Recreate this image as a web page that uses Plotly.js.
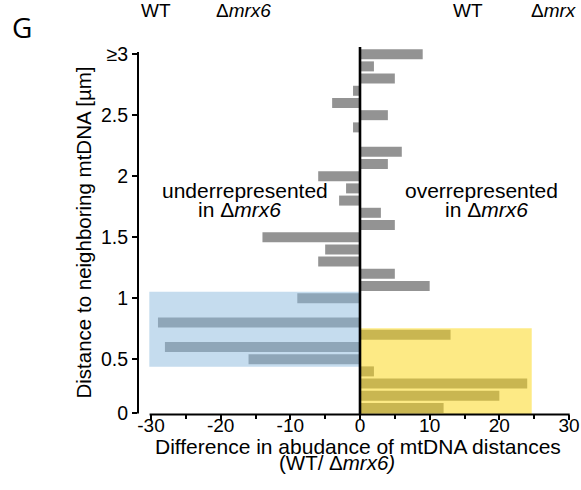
<!DOCTYPE html>
<html>
<head>
<meta charset="utf-8">
<script src="https://cdn.plot.ly/plotly-3.0.1.min.js"></script>
<style>html,body{margin:0;padding:0;background:#fff;}#chart{width:581px;height:490px;}</style>
</head>
<body>
<div id="chart"></div>
<script>
// Distance bins (µm) – bar positions along the y axis (top bin is "≥3")
const distanceBins = [0.1, 0.2, 0.3, 0.4, 0.5, 0.6, 0.7, 0.8, 0.9, 1.0,
                      1.1, 1.2, 1.3, 1.4, 1.5, 1.6, 1.7, 1.8, 1.9, 2.0,
                      2.1, 2.2, 2.3, 2.4, 2.5, 2.6, 2.7, 2.8, 2.9, 3.0];
// Difference in abundance of mtDNA distances (WT / Δmrx6)
const abundanceDiff = [12, 20, 24, 2, -16, -28, 13, -29, 0, -9,
                       10, 5, -6, -5, -14, 5, 3, -3, -2, -6,
                       4, 6, 0, -1, 4, -4, -1, 5, 2, 9];
const xTickValues = [-30, -20, -10, 0, 10, 20, 30];
const xTickLabels = ['-30', '-20', '-10', '0', '10', '20', '30'];
const xMinorTicks = [-25, -15, -5, 5, 15, 25];
const yTickValues = [0.059, 0.5, 1, 1.5, 2, 2.5, 3];
const yTickLabels = ['0', '0.5', '1', '1.5', '2', '2.5', '≥3'];

const FONT = 'Liberation Sans, Arial, Helvetica, sans-serif';
const W = 581, H = 490;
const M = {l: 138, r: 10, t: 46, b: 76};
const PW = W - M.l - M.r, PH = H - M.t - M.b;
const px = x => (x - M.l) / PW;          // pixel -> paper (x)
const py = y => (H - M.b - y) / PH;      // pixel -> paper (y)

const trace = {
  type: 'bar',
  orientation: 'h',
  x: abundanceDiff,
  y: distanceBins,
  width: 0.082,
  marker: {color: '#939393', line: {width: 0}},
  hoverinfo: 'skip'
};

function ann(text, x, y, size, extra) {
  return Object.assign({
    text: text, xref: 'paper', yref: 'paper', x: px(x), y: py(y),
    xanchor: 'center', yanchor: 'middle', showarrow: false,
    font: {family: FONT, size: size, color: '#000'}
  }, extra || {});
}

const layout = {
  width: W, height: H,
  margin: M,
  paper_bgcolor: '#fff', plot_bgcolor: '#fff',
  showlegend: false,
  bargap: 0.2,
  xaxis: {
    range: [-31.865, 30.286],
    tickvals: xTickValues, ticktext: xTickLabels,
    ticks: 'outside', ticklen: 5, tickwidth: 2, tickcolor: '#000',
    ticklabelstandoff: -11,
    showgrid: false, zeroline: false, showline: false,
    tickfont: {family: FONT, size: 19, color: '#000'},
    minor: {tickvals: xMinorTicks, ticks: 'outside', ticklen: 4, tickwidth: 2, tickcolor: '#000', showgrid: false}
  },
  yaxis: {
    range: [0.0508, 3.067],
    tickvals: yTickValues, ticktext: yTickLabels,
    ticks: 'outside', ticklen: 5, tickwidth: 2, tickcolor: '#000',
    showgrid: false, zeroline: false, showline: false,
    tickfont: {family: FONT, size: 19.5, color: '#000'}
  },
  shapes: [
    {type: 'rect', layer: 'above', xref: 'x', yref: 'y', x0: -30.24, x1: 0, y0: 0.439, y1: 1.053,
     fillcolor: 'rgb(140,185,221)', opacity: 0.5, line: {width: 0}},
    {type: 'rect', layer: 'above', xref: 'x', yref: 'y', x0: 0, x1: 24.65, y0: 0.048, y1: 0.753,
     fillcolor: 'rgb(251,215,22)', opacity: 0.52, line: {width: 0}},
    // x axis line
    {type: 'line', layer: 'above', xref: 'x', yref: 'paper', x0: -30.2, x1: 30.1, y0: py(414.5), y1: py(414.5),
     line: {color: '#000', width: 2}},
    // y axis line
    {type: 'line', layer: 'above', xref: 'paper', yref: 'paper', x0: 0, x1: 0, y0: py(413.5), y1: py(52),
     line: {color: '#000', width: 2}},
    // zero line
    {type: 'line', layer: 'above', xref: 'x', yref: 'paper', x0: 0, x1: 0, y0: py(414), y1: py(47),
     line: {color: '#000', width: 2.6}}
  ],
  annotations: [
    ann('G', 22, 27, 28, {font: {family: 'Open Sans, sans-serif', size: 28, color: '#000'}}),
    ann('WT', 155.5, 10, 19),
    ann('Δ<i>mrx6</i>', 243.5, 10, 19),
    ann('WT', 468, 10, 19),
    ann('Δ<i>mrx</i>', 529, 10, 19, {xanchor: 'left'}),
    ann('underrepresented', 244.5, 190.5, 21),
    ann('in Δ<i>mrx6</i>', 239.3, 209.5, 21),
    ann('overrepresented', 481.7, 190.8, 21),
    ann('in Δ<i>mrx6</i>', 486.3, 209.5, 21),
    ann('Difference in abudance of mtDNA distances', 358, 446.3, 21),
    ann('(WT/ Δ<i>mrx6)</i>', 337, 462.5, 20.5),
    ann('Distance to neighboring mtDNA [µm]', 83, 232.5, 20.5, {textangle: -90})
  ]
};

Plotly.newPlot('chart', [trace], layout, {staticPlot: true, displayModeBar: false});
</script>
</body>
</html>
